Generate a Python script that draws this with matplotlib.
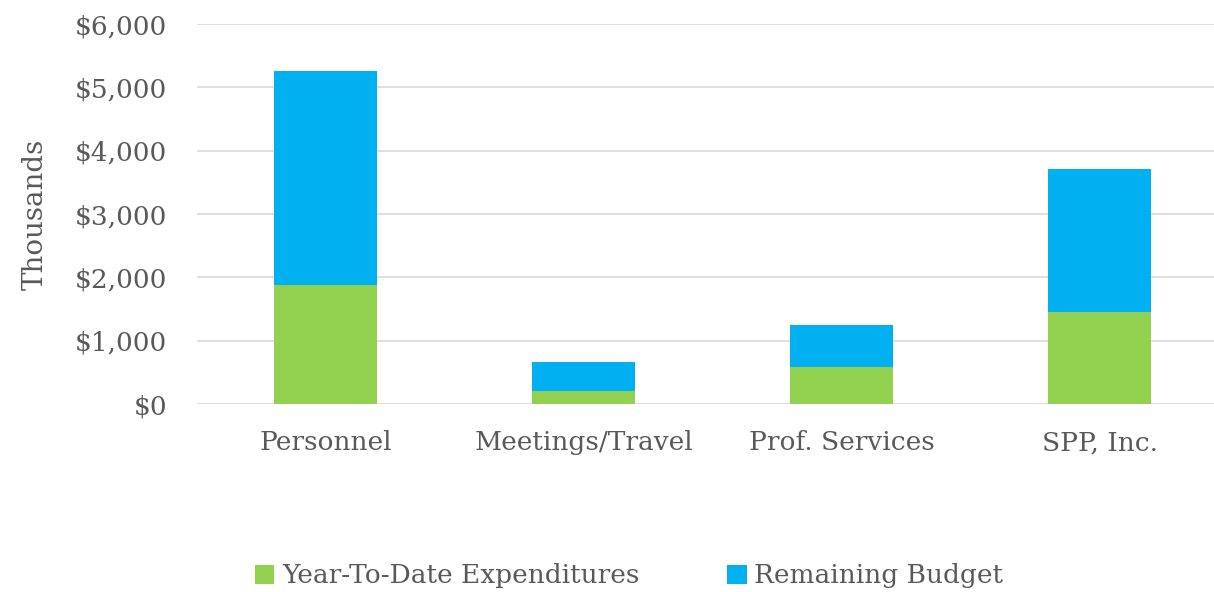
import matplotlib
matplotlib.use('Agg')
import matplotlib.pyplot as plt
from matplotlib.ticker import FuncFormatter

categories = ['Personnel', 'Meetings/Travel', 'Prof. Services', 'SPP, Inc.']
ytd_expenditures = [1879, 200, 589, 1453]
remaining_budget = [3379, 458, 658, 2263]

green = '#92D050'
blue = '#00B0F0'
gray = '#595959'

plt.rcParams['font.family'] = ['DejaVu Serif']

fig = plt.figure(figsize=(12.14, 5.92), dpi=100)
ax = fig.add_axes([196.5 / 1214, 1 - 404 / 592, 1032 / 1214, 380 / 592])

x = range(len(categories))
ax.bar(x, ytd_expenditures, width=0.4, color=green, label='Year-To-Date Expenditures', zorder=3)
ax.bar(x, remaining_budget, width=0.4, bottom=ytd_expenditures, color=blue,
       label='Remaining Budget', zorder=3)

ax.set_xlim(-0.5, 3.5)
ax.set_ylim(0, 6000)
ax.set_yticks(range(0, 6001, 1000))
ax.yaxis.set_major_formatter(FuncFormatter(lambda v, p: '${:,.0f}'.format(v)))
ax.set_xticks(list(x))
ax.set_xticklabels(categories)
ax.grid(axis='y', color='#D9D9D9', linewidth=1.2, zorder=0)
for s in ax.spines.values():
    s.set_visible(False)
ax.tick_params(length=0, labelsize=19, labelcolor=gray)
ax.tick_params(axis='x', pad=19)
ax.tick_params(axis='y', pad=21)
ax.set_ylabel('Thousands', fontsize=20, color=gray, labelpad=19)

fig.legend(loc='center', bbox_to_anchor=(629 / 1214, 1 - 576 / 592), ncol=2, frameon=False,
           fontsize=19, labelcolor=gray, handlelength=0.75, handleheight=0.75,
           handletextpad=0.3, columnspacing=3.3)

fig.savefig('out.png', dpi=100)
plt.close()
